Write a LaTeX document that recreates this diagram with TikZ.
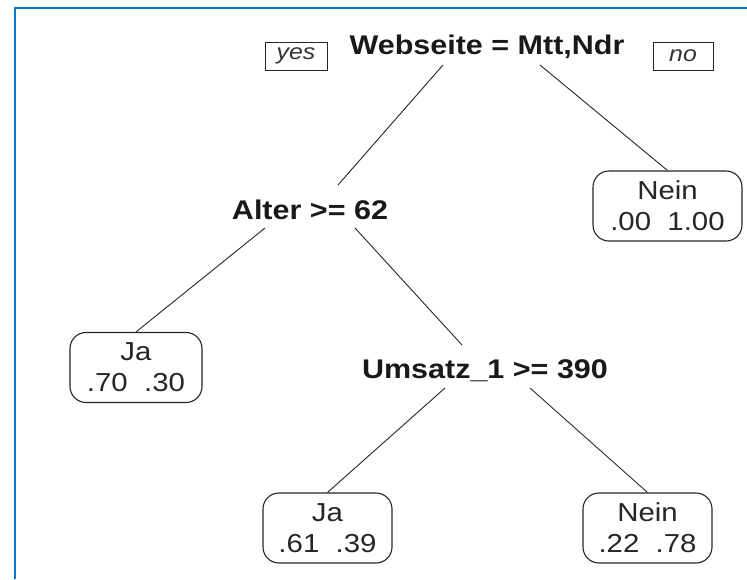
\documentclass[tikz,border=0pt]{standalone}
\usepackage{fontspec}
\setmainfont[FakeStretch=1.13]{Liberation Sans}
\definecolor{framblue}{RGB}{0,120,204}
\begin{document}
\begin{tikzpicture}[x=1pt,y=-1pt,
  split/.style={font=\fontsize{27}{30}\selectfont\bfseries, inner sep=0pt, anchor=base, text=black!90},
  leaf/.style={draw=black!85, rounded corners=16pt, line width=1.1pt, align=center, font=\fontsize{26}{31}\selectfont, minimum height=70pt, inner sep=0pt, text=black!85},
  tag/.style={draw=black!85, line width=0.9pt, font=\fontsize{22}{22}\selectfont\itshape, minimum height=28pt, inner sep=0pt, text=black!80},
  edge/.style={line width=0.9pt, draw=black!85}]
\useasboundingbox (0,0) rectangle (747,579);
\fill[white] (0,0) rectangle (747,579);
\draw[framblue, line width=2pt] (747,8) -- (14.5,8) -- (14.5,579);

\node[split] (web) at (487,54) {Webseite = Mtt,Ndr};
\node[split] (alter) at (310,219) {Alter >= 62};
\node[split] (ums) at (485,378) {Umsatz\_1 >= 390};

\node[tag, minimum width=62pt] (yes) at (296,56) {yes};
\node[tag, minimum width=60pt] (no) at (683,56) {no};

\node[leaf, minimum width=149pt] (l1) at (667.5,206) {Nein\\.00~~1.00};
\node[leaf, minimum width=132pt] (l2) at (136,367.5) {Ja\\.70~~.30};
\node[leaf, minimum width=129pt] (l3) at (327.5,528) {Ja\\.61~~.39};
\node[leaf, minimum width=129pt] (l4) at (647.5,528) {Nein\\.22~~.78};

\draw[edge] ([shift={(-44,11)}]web.base) -- ([shift={(28,-34)}]alter.base);
\draw[edge] ([shift={(53,11)}]web.base) -- (l1.north);
\draw[edge] ([shift={(-45,9)}]alter.base) -- (l2.north);
\draw[edge] ([shift={(45,9)}]alter.base) -- ([shift={(-23,-33)}]ums.base);
\draw[edge] ([shift={(-40,10)}]ums.base) -- (l3.north);
\draw[edge] ([shift={(45,10)}]ums.base) -- (l4.north);
\end{tikzpicture}
\end{document}
